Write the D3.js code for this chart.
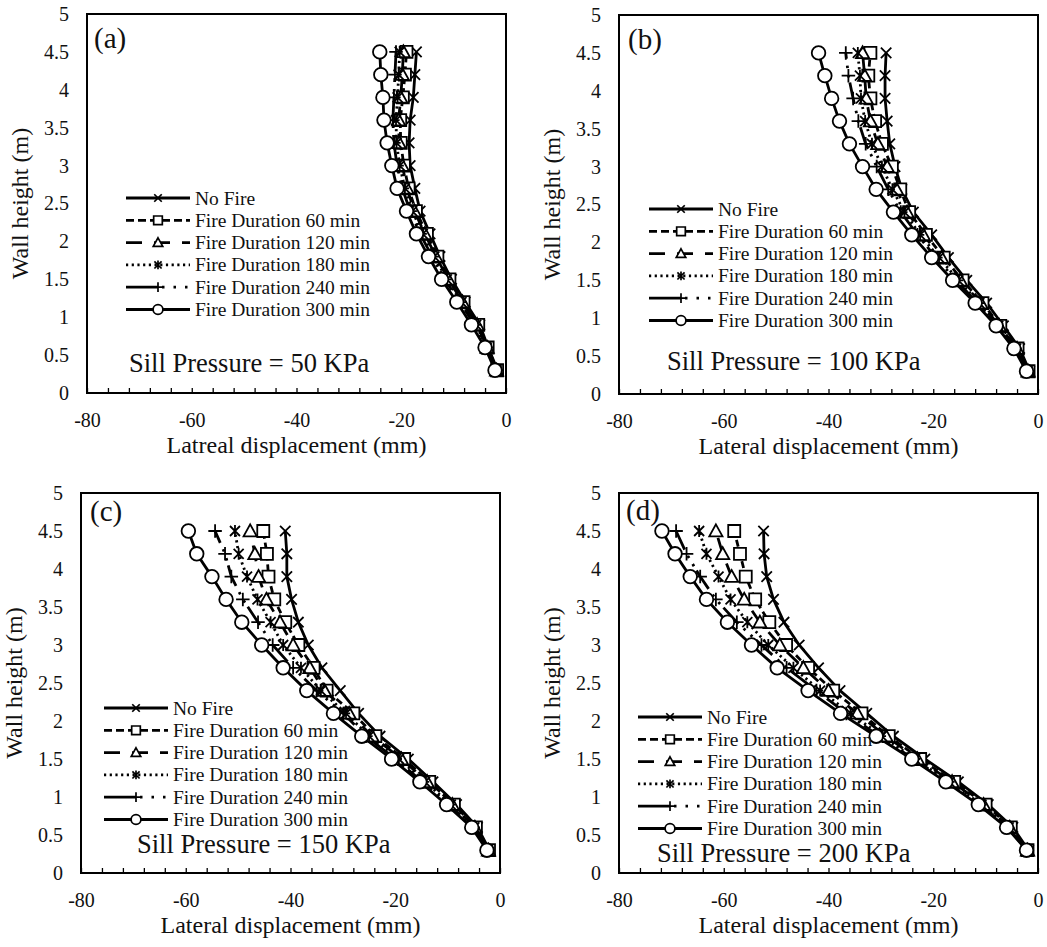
<!DOCTYPE html>
<html>
<head>
<meta charset="utf-8">
<script src="https://cdn.jsdelivr.net/npm/d3@7"></script>
<style>
  html, body { margin: 0; padding: 0; background: #fff; }
  svg { display: block; }
  svg text { font-family: "Liberation Serif", "Times New Roman", "DejaVu Serif", serif; fill: #111; }
</style>
</head>
<body>
<svg id="chart" width="1047" height="947" font-family="Liberation Serif, Times New Roman, serif"></svg>
<script>
// ---------------- DATA ----------------
const heights = [0.3, 0.6, 0.9, 1.2, 1.5, 1.8, 2.1, 2.4, 2.7, 3.0, 3.3, 3.6, 3.9, 4.2, 4.5];
const seriesNames = ["No Fire", "Fire Duration 60 min", "Fire Duration 120 min",
                     "Fire Duration 180 min", "Fire Duration 240 min", "Fire Duration 300 min"];
const panelLabels = ["(a)", "(b)", "(c)", "(d)"];
const pressureLabels = ["Sill Pressure = 50 KPa", "Sill Pressure = 100 KPa",
                        "Sill Pressure = 150 KPa", "Sill Pressure = 200 KPa"];
const xTitles = ["Latreal displacement (mm)", "Lateral displacement (mm)",
                 "Lateral displacement (mm)", "Lateral displacement (mm)"];
const yTitle = "Wall height (m)";
const xTickLabels = [-80, -60, -40, -20, 0];
const yTickLabels = [0, 0.5, 1, 1.5, 2, 2.5, 3, 3.5, 4, 4.5, 5];

// lateral displacement (mm), bottom (0.3 m) to top (4.5 m); order = seriesNames
const disp50 = [
  [-1.6,-3.4,-5.0,-7.8,-10.4,-12.6,-14.5,-16.4,-17.4,-18.3,-18.5,-18.3,-17.7,-17.4,-17.1],
  [-1.7,-3.5,-5.3,-8.1,-10.8,-13.1,-15.1,-17.2,-18.6,-19.5,-20.1,-20.2,-19.7,-19.3,-19.0],
  [-1.8,-3.6,-5.5,-8.3,-11.0,-13.4,-15.5,-17.5,-18.9,-19.8,-20.4,-20.5,-20.1,-19.8,-19.6],
  [-1.8,-3.7,-5.7,-8.5,-11.3,-13.7,-15.9,-17.9,-19.3,-20.3,-20.9,-21.0,-20.7,-20.5,-20.3],
  [-1.9,-3.8,-6.0,-8.8,-11.7,-14.1,-16.4,-18.3,-19.8,-20.8,-21.4,-21.6,-21.4,-21.2,-21.0],
  [-2.1,-4.0,-6.6,-9.4,-12.3,-14.8,-17.1,-19.0,-20.8,-21.8,-22.7,-23.3,-23.5,-23.9,-24.1]
];
const disp100 = [
  [-1.6,-3.5,-6.6,-9.8,-13.6,-17.1,-20.3,-23.8,-26.0,-27.3,-28.3,-28.8,-29.2,-29.2,-29.0],
  [-1.8,-3.9,-7.2,-10.6,-14.4,-18.0,-21.4,-24.6,-26.3,-27.9,-29.8,-31.1,-32.0,-32.4,-32.0],
  [-1.9,-4.0,-7.4,-10.9,-14.8,-18.4,-21.9,-25.0,-27.0,-28.8,-30.6,-32.0,-32.8,-33.1,-33.5],
  [-2.0,-4.2,-7.6,-11.2,-15.2,-18.9,-22.5,-25.5,-27.8,-29.8,-31.7,-33.0,-33.8,-34.0,-34.4],
  [-2.1,-4.4,-7.8,-11.6,-15.6,-19.5,-23.0,-26.2,-28.6,-30.8,-32.9,-34.3,-35.3,-36.2,-36.7],
  [-2.2,-4.6,-8.0,-12.0,-16.3,-20.3,-24.1,-27.6,-30.9,-33.5,-36.0,-37.9,-39.4,-40.7,-41.9]
];
const disp150 = [
  [-2.0,-4.3,-8.3,-12.8,-17.5,-22.9,-27.0,-30.5,-34.0,-36.6,-38.5,-39.8,-40.7,-40.7,-41.0],
  [-2.1,-4.6,-8.8,-13.5,-18.3,-23.8,-28.0,-33.1,-35.6,-38.5,-41.0,-43.1,-44.2,-44.5,-45.2],
  [-2.2,-4.8,-9.1,-13.9,-18.8,-24.4,-28.8,-33.5,-36.3,-39.5,-42.0,-44.6,-46.1,-46.8,-47.7],
  [-2.3,-4.9,-9.4,-14.3,-19.3,-25.0,-29.4,-34.2,-38.0,-41.4,-43.8,-46.3,-48.3,-49.9,-50.6],
  [-2.4,-5.1,-9.8,-14.8,-20.0,-25.6,-29.9,-35.0,-39.5,-43.4,-46.2,-49.1,-51.3,-52.5,-54.4],
  [-2.5,-5.4,-10.2,-15.3,-20.7,-26.4,-31.8,-36.9,-41.4,-45.5,-49.3,-52.3,-55.0,-57.9,-59.5]
];
const disp200 = [
  [-1.8,-4.8,-9.5,-15.2,-21.6,-27.6,-32.7,-37.8,-41.9,-45.6,-48.5,-50.5,-51.8,-52.3,-52.4],
  [-2.0,-5.2,-10.0,-16.0,-22.5,-28.5,-33.7,-39.1,-43.9,-48.1,-51.3,-54.0,-55.8,-56.9,-58.0],
  [-2.0,-5.4,-10.4,-16.4,-23.0,-29.0,-34.5,-40.0,-44.8,-49.3,-53.1,-56.1,-58.5,-60.2,-61.5],
  [-2.1,-5.6,-10.8,-16.9,-23.5,-29.8,-35.8,-41.6,-46.7,-51.5,-55.5,-58.7,-61.0,-63.3,-64.7],
  [-2.1,-5.8,-11.1,-17.2,-23.8,-30.3,-36.6,-42.3,-48.0,-52.8,-57.5,-61.5,-64.5,-67.1,-69.1],
  [-2.2,-6.0,-11.4,-17.6,-24.1,-30.9,-37.7,-43.9,-49.8,-54.7,-59.3,-63.3,-66.4,-69.3,-71.8]
];
const panelData = [disp50, disp100, disp150, disp200];

// ---------------- STYLE / LAYOUT ----------------
const FONT = '"Liberation Serif", "Times New Roman", serif';
const dashes = [null, "7,4", "16,11", "2.2,3.5", "22,5,2.5,7,2.5,7", null];
const legendDashes = [null, "8,4", "16,12", "2.2,3.5", "32,4,2.5,9,2.5,9,2.5,40", null];
const markerTypes = ["times", "square", "triangle", "asterisk", "plus", "circle"];

const layout = [
  {L: 87,  R: 506,  T: 14,  B: 393, lab: [94, 48],   leg: [126, 198], sill: [129, 372]},
  {L: 619, R: 1038, T: 15,  B: 394, lab: [628, 49],  leg: [649, 209], sill: [667, 370]},
  {L: 81,  R: 500,  T: 493, B: 873, lab: [90, 521],  leg: [104, 708], sill: [137, 853]},
  {L: 619, R: 1038, T: 493, B: 873, lab: [626, 520], leg: [638, 717], sill: [657, 862]}
];

function markerPath(type, s) {
  switch (type) {
    case "times": return `M${-s},${-s}L${s},${s}M${-s},${s}L${s},${-s}`;
    case "square": return `M${-s},${-s}H${s}V${s}H${-s}Z`;
    case "triangle": {
      const h = s * 1.1;
      return `M0,${-h}L${h},${h * 0.8}L${-h},${h * 0.8}Z`;
    }
    case "asterisk": return `M${-s},${-s}L${s},${s}M${-s},${s}L${s},${-s}M0,${-s * 1.2}V${s * 1.2}`;
    case "plus": return `M${-s * 1.25},0H${s * 1.25}M0,${-s * 1.25}V${s * 1.25}`;
    case "circle": return `M${s},0A${s},${s} 0 1,1 ${-s},0A${s},${s} 0 1,1 ${s},0Z`;
  }
}
function markerFill(type) {
  return (type === "square" || type === "triangle" || type === "circle") ? "#fff" : "none";
}
function markerSize(type) {
  return {times: 5.2, square: 6, triangle: 6, asterisk: 5, plus: 5.4, circle: 6.8}[type];
}

const svg = d3.select("#chart");

layout.forEach((p, pi) => {
  const g = svg.append("g");
  const x = d3.scaleLinear().domain([-80, 0]).range([p.L, p.R]);
  const y = d3.scaleLinear().domain([0, 5]).range([p.B, p.T]);

  // minor x ticks (inside)
  g.append("g")
    .attr("transform", `translate(0,${p.B})`)
    .call(d3.axisBottom(x).tickValues(d3.range(-80, 0.1, 4)).tickSize(-5).tickFormat(""))
    .call(a => a.select(".domain").remove())
    .call(a => a.selectAll("line").attr("stroke", "#000").attr("stroke-width", 1.3));

  // x tick labels
  g.append("g")
    .attr("transform", `translate(0,${p.B})`)
    .call(d3.axisBottom(x).tickValues(xTickLabels).tickSize(0).tickPadding(20).tickFormat(d => String(d)))
    .attr("font-family", FONT)
    .call(a => a.select(".domain").remove())
    .call(a => a.selectAll("text").style("font-size", "20px")
      .style("font-family", FONT).attr("fill", "#111"));

  // y tick labels
  g.append("g")
    .attr("transform", `translate(${p.L},0)`)
    .call(d3.axisLeft(y).tickValues(yTickLabels).tickSize(0).tickPadding(18).tickFormat(d => String(d)))
    .attr("font-family", FONT)
    .call(a => a.select(".domain").remove())
    .call(a => a.selectAll("text").style("font-size", "20px")
      .style("font-family", FONT).attr("fill", "#111"));

  // frame
  g.append("rect")
    .attr("x", p.L).attr("y", p.T).attr("width", p.R - p.L).attr("height", p.B - p.T)
    .attr("fill", "none").attr("stroke", "#000").attr("stroke-width", 2);

  // axis titles
  g.append("text")
    .attr("transform", `translate(${p.L - 59},${(p.T + p.B) / 2}) rotate(-90)`)
    .attr("text-anchor", "middle").style("font-family", FONT).style("font-size", "24px").text(yTitle);
  g.append("text")
    .attr("x", (p.L + p.R) / 2).attr("y", p.B + 60)
    .attr("text-anchor", "middle").style("font-family", FONT).style("font-size", "24px").text(xTitles[pi]);

  // panel label
  g.append("text").attr("x", p.lab[0]).attr("y", p.lab[1])
    .style("font-family", FONT).style("font-size", "29px").text(panelLabels[pi]);

  // series
  const data = panelData[pi];
  const line = d3.line().x(d => x(d[0])).y(d => y(d[1]));
  data.forEach((vals, si) => {
    const pts = vals.map((v, i) => [v, heights[i]]);
    g.append("path").datum(pts)
      .attr("d", line)
      .attr("fill", "none").attr("stroke", "#000").attr("stroke-width", 2.8)
      .attr("stroke-dasharray", dashes[si]);
  });
  data.forEach((vals, si) => {
    const t = markerTypes[si];
    const pts = vals.map((v, i) => [v, heights[i]]);
    g.append("g").selectAll("path").data(pts).join("path")
      .attr("transform", d => `translate(${x(d[0])},${y(d[1])})`)
      .attr("d", markerPath(t, markerSize(t)))
      .attr("fill", markerFill(t)).attr("stroke", "#000").attr("stroke-width", 1.8);
  });

  // legend
  const lg = g.append("g");
  seriesNames.forEach((name, si) => {
    const ly = p.leg[1] + si * 22.3;
    const x0 = p.leg[0], x1 = p.leg[0] + 64;
    lg.append("line").attr("x1", x0).attr("x2", x1).attr("y1", ly).attr("y2", ly)
      .attr("stroke", "#000").attr("stroke-width", 2.8).attr("stroke-dasharray", legendDashes[si]);
    const t = markerTypes[si];
    lg.append("path").attr("transform", `translate(${(x0 + x1) / 2},${ly})`)
      .attr("d", markerPath(t, markerSize(t) * 0.72))
      .attr("fill", markerFill(t)).attr("stroke", "#000").attr("stroke-width", 1.7);
    lg.append("text").attr("x", x1 + 5).attr("y", ly + 6.5)
      .style("font-family", FONT).style("font-size", "19.5px").text(name);
  });

  // pressure note
  g.append("text").attr("x", p.sill[0]).attr("y", p.sill[1])
    .style("font-family", FONT).style("font-size", "26.5px").text(pressureLabels[pi]);
});
</script>
</body>
</html>
